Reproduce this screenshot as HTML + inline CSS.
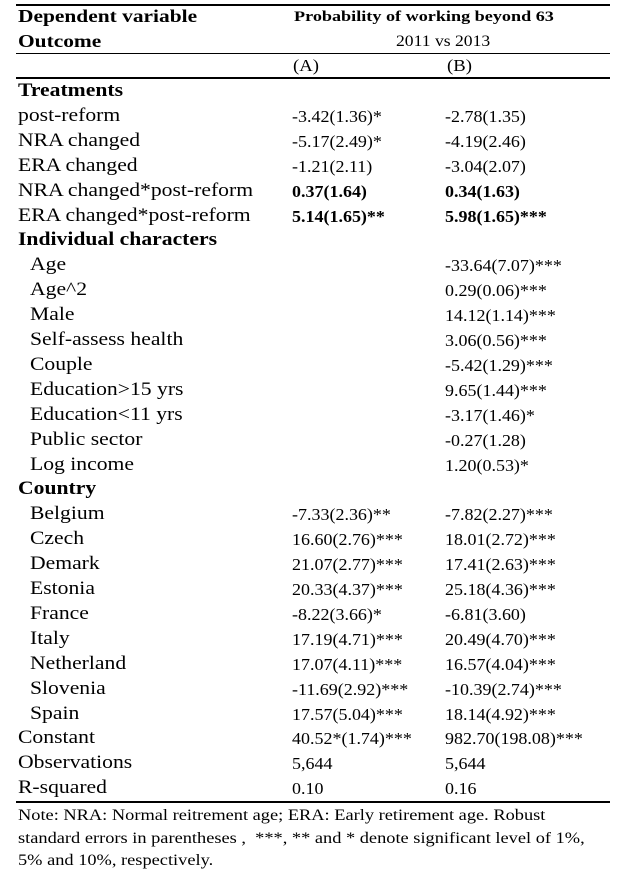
<!DOCTYPE html>
<html><head><meta charset="utf-8"><style>
body{margin:0;background:#fff;width:626px;height:877px;position:relative;font-family:"Liberation Serif",serif;color:#000;overflow:hidden}
.t{position:absolute;white-space:nowrap;font-size:18px;line-height:20px;transform-origin:0 0}
.b{font-weight:bold}
.ln{position:absolute;left:16px;width:594px;background:#000}
</style></head><body>
<div class="ln" style="top:4px;height:2px"></div>
<div class="t b" style="left:18px;top:6px;font-size:18px;transform:scaleX(1.19)">Dependent variable</div>
<div class="t b" style="left:18px;top:31px;font-size:18px;transform:scaleX(1.19)">Outcome</div>
<div class="t b" style="left:294px;top:7px;font-size:15px;transform:scaleX(1.21)">Probability of working beyond 63</div>
<div class="t" style="left:396px;top:32px;font-size:16px;transform:scaleX(1.1)">2011 vs 2013</div>
<div class="ln" style="top:53px;height:1px"></div>
<div class="t" style="left:293px;top:56px;font-size:17px;transform:scaleX(1.1)">(A)</div>
<div class="t" style="left:447px;top:56px;font-size:17px;transform:scaleX(1.1)">(B)</div>
<div class="ln" style="top:77px;height:2px"></div>
<div id="rows"></div>
<div class="ln" style="top:801px;height:2px"></div>
<div class="t" style="left:18px;top:805px;font-size:15.5px;line-height:22.5px;transform:scaleX(1.185)">Note: NRA: Normal reitrement age; ERA: Early retirement age. Robust<br>standard errors in parentheses ,&nbsp; ***, ** and * denote significant level of 1%,<br>5% and 10%, respectively.</div>
<script>
const labels=["Treatments","post-reform","NRA changed","ERA changed","NRA changed*post-reform","ERA changed*post-reform","Individual characters","Age","Age^2","Male","Self-assess health","Couple","Education>15 yrs","Education<11 yrs","Public sector","Log income","Country","Belgium","Czech","Demark","Estonia","France","Italy","Netherland","Slovenia","Spain","Constant","Observations","R-squared"];
const colA=["","-3.42(1.36)*","-5.17(2.49)*","-1.21(2.11)","0.37(1.64)","5.14(1.65)**","","","","","","","","","","","","-7.33(2.36)**","16.60(2.76)***","21.07(2.77)***","20.33(4.37)***","-8.22(3.66)*","17.19(4.71)***","17.07(4.11)***","-11.69(2.92)***","17.57(5.04)***","40.52*(1.74)***","5,644","0.10"];
const colB=["","-2.78(1.35)","-4.19(2.46)","-3.04(2.07)","0.34(1.63)","5.98(1.65)***","","-33.64(7.07)***","0.29(0.06)***","14.12(1.14)***","3.06(0.56)***","-5.42(1.29)***","9.65(1.44)***","-3.17(1.46)*","-0.27(1.28)","1.20(0.53)*","","-7.82(2.27)***","18.01(2.72)***","17.41(2.63)***","25.18(4.36)***","-6.81(3.60)","20.49(4.70)***","16.57(4.04)***","-10.39(2.74)***","18.14(4.92)***","982.70(198.08)***","5,644","0.16"];
const sections=[0,6,16];
const indented=[7,8,9,10,11,12,13,14,15,17,18,19,20,21,22,23,24,25];
const boldRows=[4,5];
const R=document.getElementById('rows');
labels.forEach((l,i)=>{
  const y=81+i*24.9;
  const sec=sections.includes(i);
  const a=document.createElement('div');
  a.className='t'+(sec?' b':'');
  a.style.left=(indented.includes(i)?30:18)+'px';a.style.top=y+'px';
  a.style.fontSize='18.5px';a.style.transform='scaleX(1.17)';
  a.textContent=l;
  
  
  R.appendChild(a);
  [[colA[i],292,'a'],[colB[i],445,'b']].forEach(([v,x,c])=>{
    if(!v)return;
    const d=document.createElement('div');
    d.className='t'+(boldRows.includes(i)?' b':'');
    d.style.left=x+'px';d.style.top=(y+1)+'px';d.style.fontSize='16.5px';d.style.transform='scaleX(1.09)';
    d.textContent=v;
    
    
    R.appendChild(d);
  });
});
</script>
</body></html>
